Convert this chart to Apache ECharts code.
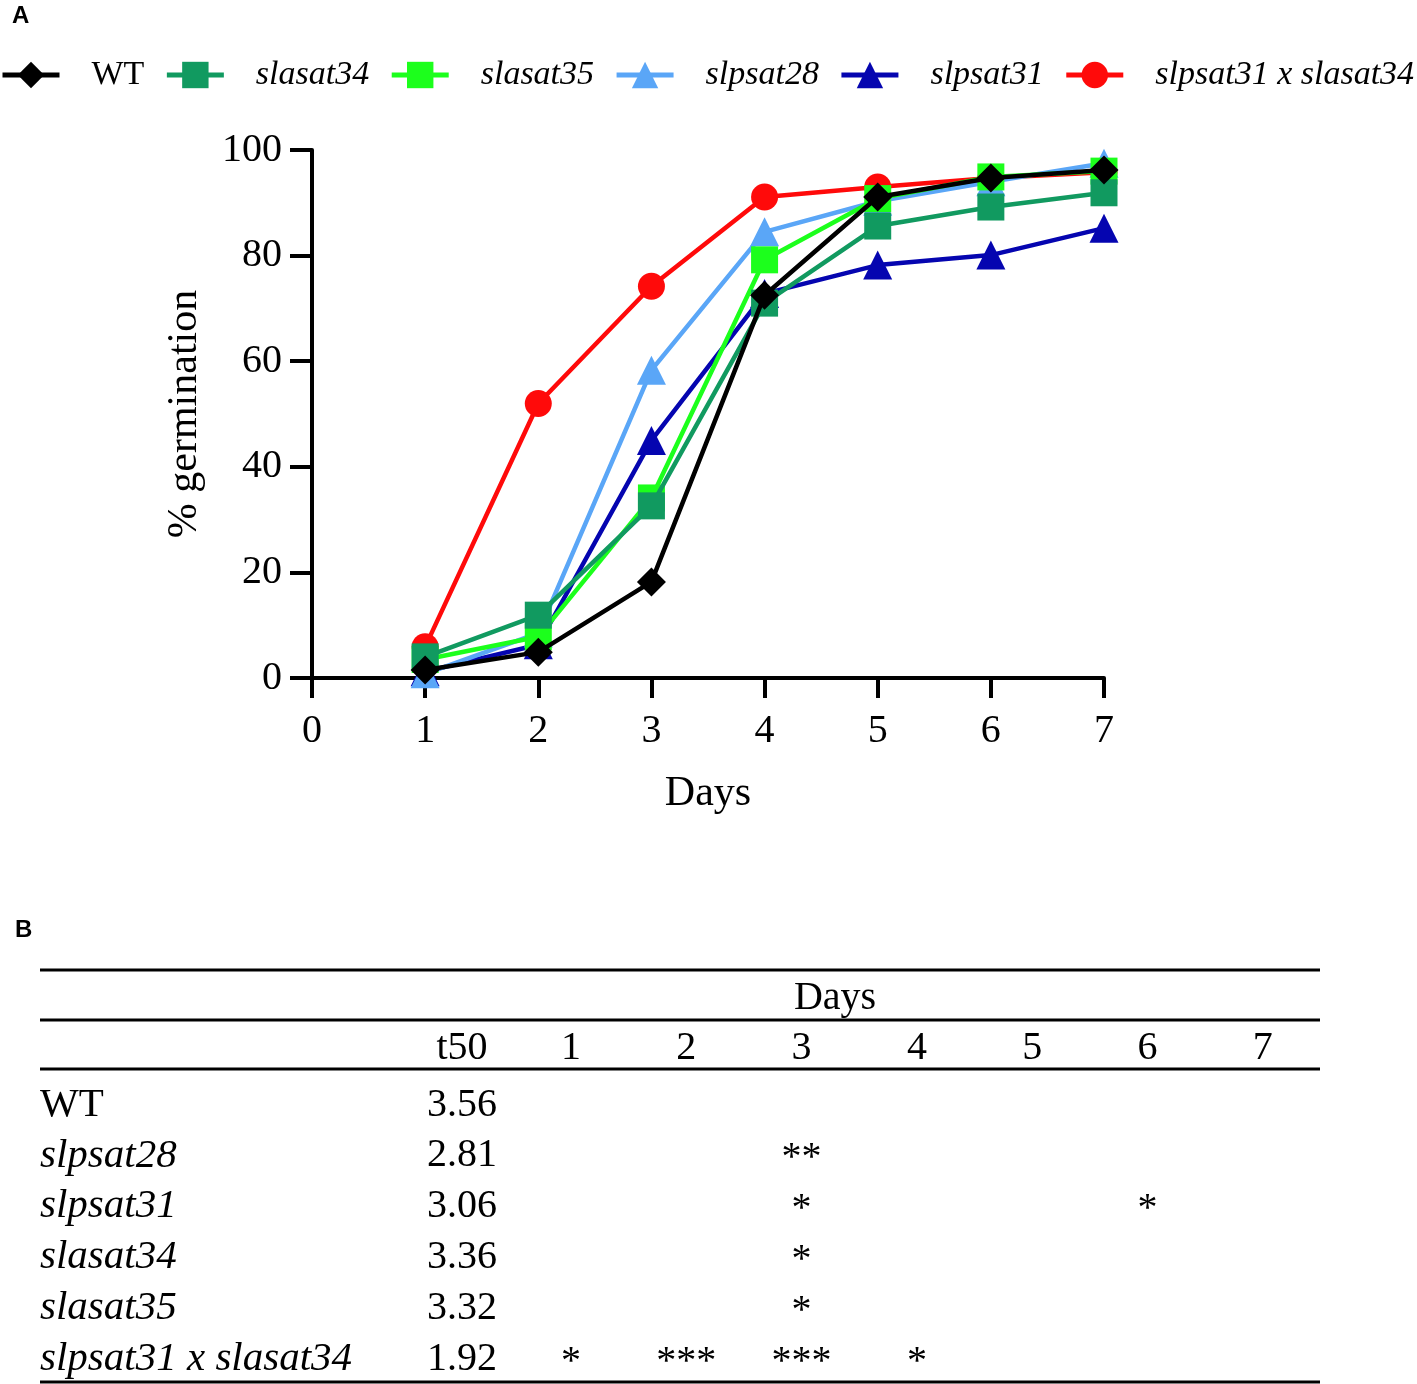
<!DOCTYPE html>
<html>
<head>
<meta charset="utf-8">
<script src="https://cdn.jsdelivr.net/npm/echarts@6/dist/echarts.min.js"></script>
<style>
  html, body { margin: 0; padding: 0; background: #fff; }
  #main { width: 1417px; height: 1384px; }
</style>
</head>
<body>
<div id="main"></div>
<script>
// germination curves (% germinated per day)
var days = [1, 2, 3, 4, 5, 6, 7];
var seriesNames = ['WT', 'slasat34', 'slasat35', 'slpsat28', 'slpsat31', 'slpsat31 x slasat34'];
var wt       = [1.5, 4.9, 18.2, 72.5, 91.1, 94.7, 96.2];
var slasat34 = [4.0, 11.9, 32.6, 71.0, 85.6, 89.2, 91.9];
var slasat35 = [3.5, 7.8, 34.1, 79.2, 90.8, 94.9, 96.0];
var slpsat28 = [0.8, 8.5, 58.3, 84.5, 90.3, 94.0, 97.5];
var slpsat31 = [1.2, 6.3, 45.0, 72.8, 78.2, 80.1, 85.2];
var cross    = [5.9, 52.0, 74.2, 91.1, 93.0, 94.7, 95.8];
var seriesValues = [wt, slasat34, slasat35, slpsat28, slpsat31, cross];
var colors  = ['#000000', '#119a60', '#1cff1c', '#5aa6f7', '#0505b0', '#ff0a0a'];
var symbols = ['diamond', 'rect', 'rect', 'triangle', 'triangle', 'circle'];
var symbolSizes = [29, 27, 27, 29, 29, 27];

// table B
var tableHeader = ['t50', '1', '2', '3', '4', '5', '6', '7'];
var tableGenotypes = ['WT', 'slpsat28', 'slpsat31', 'slasat34', 'slasat35', 'slpsat31 x slasat34'];
var t50 = ['3.56', '2.81', '3.06', '3.36', '3.32', '1.92'];
var signif = [
  ['', '', '', '', '', '', ''],
  ['', '', '**', '', '', '', ''],
  ['', '', '*', '', '', '*', ''],
  ['', '', '*', '', '', '', ''],
  ['', '', '*', '', '', '', ''],
  ['*', '***', '***', '*', '', '', '']
];

var serif = '"Liberation Serif", "Times New Roman", serif';

function buildSeries() {
  var out = [];
  for (var i = 0; i < seriesNames.length; i++) {
    out.push({
      name: seriesNames[i],
      type: 'line',
      data: days.map(function (d, k) { return [d, seriesValues[i][k]]; }),
      symbol: symbols[i],
      symbolSize: symbolSizes[i],
      showAllSymbol: true,
      z: 10 - i,
      color: colors[i],
      lineStyle: { color: colors[i], width: 4.5 },
      itemStyle: { color: colors[i] },
      emphasis: { disabled: true },
      animation: false
    });
  }
  return out;
}

function buildTable() {
  var g = [];
  var left = 40, right = 1320;
  var lineYs = [970, 1020, 1069, 1382];
  lineYs.forEach(function (y) {
    g.push({ type: 'line', shape: { x1: left, y1: y, x2: right, y2: y },
      style: { stroke: '#000', lineWidth: 3 } });
  });
  var colX = [462];
  for (var d = 0; d < 7; d++) colX.push(571 + d * 115.3);
  g.push({ type: 'text', x: 835, y: 998,
    style: { text: 'Days', font: '40px ' + serif, fill: '#000', textAlign: 'center', textVerticalAlign: 'middle' } });
  tableHeader.forEach(function (h, i) {
    g.push({ type: 'text', x: colX[i], y: 1048,
      style: { text: h, font: '40px ' + serif, fill: '#000', textAlign: 'center', textVerticalAlign: 'middle' } });
  });
  var rowY = 1105, rowStep = 50.8;
  tableGenotypes.forEach(function (name, r) {
    var y = rowY + r * rowStep;
    g.push({ type: 'text', x: left, y: y,
      style: { text: name, font: (name === 'WT' ? '' : 'italic ') + '41px ' + serif, fill: '#000',
        textAlign: 'left', textVerticalAlign: 'middle' } });
    g.push({ type: 'text', x: colX[0], y: y,
      style: { text: t50[r], font: '40px ' + serif, fill: '#000', textAlign: 'center', textVerticalAlign: 'middle' } });
    signif[r].forEach(function (s, c) {
      if (!s) return;
      g.push({ type: 'text', x: colX[c + 1], y: y + 3,
        style: { text: s, font: '40px ' + serif, fill: '#000', textAlign: 'center', textVerticalAlign: 'middle' } });
    });
  });
  g.push({ type: 'text', x: 12, y: 4,
    style: { text: 'A', font: 'bold 24px "Liberation Sans", Arial, sans-serif', fill: '#000' } });
  g.push({ type: 'text', x: 15, y: 918,
    style: { text: 'B', font: 'bold 24px "Liberation Sans", Arial, sans-serif', fill: '#000' } });
  return g;
}

var chart = echarts.init(document.getElementById('main'));
var option = {
  backgroundColor: '#fff',
  animation: false,
  legend: {
    data: seriesNames,
    left: 0,
    top: 58,
    width: 1417,
    padding: 0,
    itemWidth: 57,
    itemHeight: 33,
    itemGap: 20,
    selectedMode: false,
    lineStyle: { width: 5 },
    formatter: function (name) {
      return name === 'WT' ? '{n|' + name + '}' : '{i|' + name + '}';
    },
    textStyle: {
      color: '#000',
      fontFamily: serif,
      fontSize: 34,
      padding: [0, 0, 0, 27],
      rich: {
        n: { fontFamily: serif, fontSize: 34, color: '#000' },
        i: { fontFamily: serif, fontSize: 34, fontStyle: 'italic', color: '#000' }
      }
    }
  },
  grid: { left: 312, right: 313, top: 150, bottom: 706, containLabel: false },
  xAxis: {
    type: 'value',
    min: 0,
    max: 7,
    interval: 1,
    name: 'Days',
    nameLocation: 'middle',
    nameGap: 95,
    nameTextStyle: { fontFamily: serif, fontSize: 42, color: '#000' },
    axisLine: { lineStyle: { color: '#000', width: 4 } },
    axisTick: { length: 20, lineStyle: { color: '#000', width: 4 } },
    axisLabel: { margin: 33, fontFamily: serif, fontSize: 40, color: '#000' },
    splitLine: { show: false }
  },
  yAxis: {
    type: 'value',
    min: 0,
    max: 100,
    interval: 20,
    name: '% germination',
    nameLocation: 'middle',
    nameGap: 106,
    nameTextStyle: { fontFamily: serif, fontSize: 42, color: '#000' },
    axisLine: { show: true, lineStyle: { color: '#000', width: 4 } },
    axisTick: { show: true, length: 22, lineStyle: { color: '#000', width: 4 } },
    axisLabel: { margin: 30, fontFamily: serif, fontSize: 40, color: '#000' },
    splitLine: { show: false }
  },
  series: buildSeries(),
  graphic: buildTable()
};
chart.setOption(option);
</script>
</body>
</html>
